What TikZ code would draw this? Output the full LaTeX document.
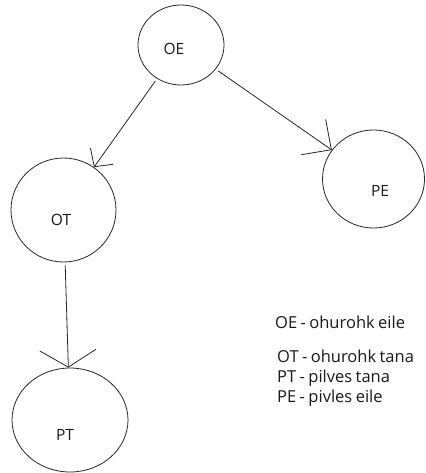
\documentclass[tikz,border=0pt]{standalone}
\usepackage{fontspec}
\setmainfont[WordSpace=0.8]{Open Sans}
\usetikzlibrary{shapes.geometric,arrows.meta}
\tikzset{
  state/.style={draw=black!85, line width=0.8pt, ellipse, inner sep=0pt},
  lbl/.style={font=\fontsize{15.5}{18}\selectfont, text=black!90, inner sep=0pt},
  legend/.style={font=\fontsize{16.5}{18}\selectfont, text=black!90, inner sep=0pt, anchor=base west},
  conn/.style={draw=black!85, line width=0.8pt},
}
\begin{document}
\begin{tikzpicture}[x=1pt,y=-1pt]
\useasboundingbox (0,0) rectangle (425,473);
% states
\node[state, minimum width=86, minimum height=80] (OE) at (181,45) {};
\node[state, minimum width=102, minimum height=98] (PE) at (373.5,179) {};
\node[state, minimum width=105, minimum height=104] (OT) at (63.5,210) {};
\node[state, minimum width=116, minimum height=104] (PT) at (70,420) {};
% labels
\node[lbl] (OEt) at (174,49) {OE};
\node[lbl] (PEt) at (380,191) {PE};
\node[lbl] (OTt) at (61,220) {OT};
\node[lbl] (PTt) at (65,435) {PT};
% connectors
\draw[conn, shorten <=3pt, -{Straight Barb[length=13pt,width=28pt]}] (OE) -- (OT);
\draw[conn, shorten <=3pt, -{Straight Barb[length=22pt,width=43pt]}] (OE) -- (PE);
\draw[conn, shorten <=3pt, -{Straight Barb[length=17pt,width=56pt]}] (OT) -- (PT);
% legend
\node[legend] (l1) at (275,328) {OE - ohurohk eile};
\node[legend] (l2) at (277,362) {OT - ohurohk tana};
\node[legend] (l3) at (277,382) {PT - pilves tana};
\node[legend] (l4) at (277,402) {PE - pivles eile};
\end{tikzpicture}
\end{document}
